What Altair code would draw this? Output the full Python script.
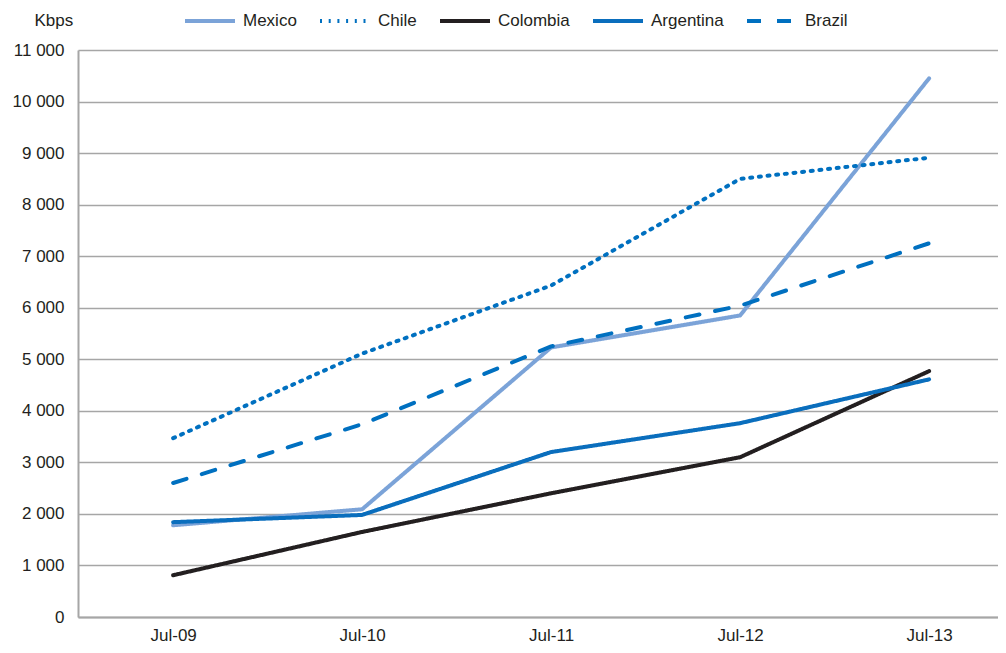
import altair as alt
import pandas as pd

periods = ["Jul-09", "Jul-10", "Jul-11", "Jul-12", "Jul-13"]
series_order = ["Mexico", "Chile", "Colombia", "Argentina", "Brazil"]
mexico = [1780, 2090, 5230, 5850, 10450]
chile = [3470, 5110, 6430, 8500, 8910]
colombia = [810, 1650, 2400, 3100, 4770]
argentina = [1840, 1980, 3200, 3760, 4610]
brazil = [2600, 3740, 5250, 6040, 7250]

colors = ["#7BA3D8", "#0070C0", "#231F20", "#0A6EBD", "#0070C0"]

draw_order = [("Mexico", mexico), ("Colombia", colombia), ("Chile", chile),
              ("Argentina", argentina), ("Brazil", brazil)]
rows = []
for name, vals in draw_order:
    for p, v in zip(periods, vals):
        rows.append({"period": p, "series": name, "value": v})
df = pd.DataFrame(rows)

FONT = "Liberation Sans"
TXT = "#231F20"
GRID = "#A6A6A6"


def build(use_encode):
    if use_encode:
        dashes = [[1, 0], [0.1, 8.6], [1, 0], [1, 0], [14, 16]]
    else:
        dashes = [[1, 0], [2, 6.7], [1, 0], [1, 0], [14, 16]]
    legend_kwargs = dict(
        title=None, orient="none", legendX=105, legendY=-56, direction="horizontal",
        symbolType="stroke", symbolSize=2500, symbolStrokeWidth=4,
        labelFontSize=17, labelFont=FONT, labelColor=TXT, labelOffset=6,
        columnPadding=15,
    )
    if use_encode:
        legend_kwargs["encode"] = {"symbols": {"update": {"strokeCap": {"value": "round"}}}}
    leg = alt.Legend(**legend_kwargs)
    chart = alt.Chart(df).mark_line(strokeWidth=4, strokeCap="round", strokeJoin="round").encode(
        x=alt.X("period:O", sort=periods,
                scale=alt.Scale(type="point", padding=0.434, align=0.58),
                axis=alt.Axis(title=None, labelAngle=0, ticks=False, domain=True,
                              domainColor=GRID, domainWidth=2, labelFontSize=17,
                              labelFont=FONT, labelColor=TXT, labelPadding=10, grid=False)),
        y=alt.Y("value:Q", scale=alt.Scale(domain=[0, 11000], nice=False),
                axis=alt.Axis(title="Kbps", titleAngle=0, titleAlign="left",
                              titleBaseline="middle", titleX=-44, titleY=-30,
                              titleFontSize=17, titleFont=FONT, titleFontWeight="normal",
                              titleColor=TXT,
                              values=list(range(0, 11001, 1000)),
                              labelExpr="replace(format(datum.value, ','), ',', ' ')",
                              ticks=False, domainColor=GRID, domainWidth=2,
                              gridColor=GRID, gridWidth=1.6, labelFontSize=17,
                              labelFont=FONT, labelColor=TXT, labelPadding=14)),
        color=alt.Color("series:N", scale=alt.Scale(domain=series_order, range=colors), legend=leg),
        strokeDash=alt.StrokeDash("series:N", scale=alt.Scale(domain=series_order, range=dashes), legend=leg),
        detail="series:N",
    ).properties(
        width=920, height=567,
        autosize=alt.AutoSizeParams(type="none"),
        padding={"left": 70, "top": 42, "right": 0, "bottom": 28},
    ).configure_view(strokeWidth=0)
    return chart


try:
    chart = build(True)
    chart.save("out.html", embed_options={"renderer": "svg", "actions": False})
except Exception:
    chart = build(False)
    chart.save("out.html", embed_options={"renderer": "svg", "actions": False})
